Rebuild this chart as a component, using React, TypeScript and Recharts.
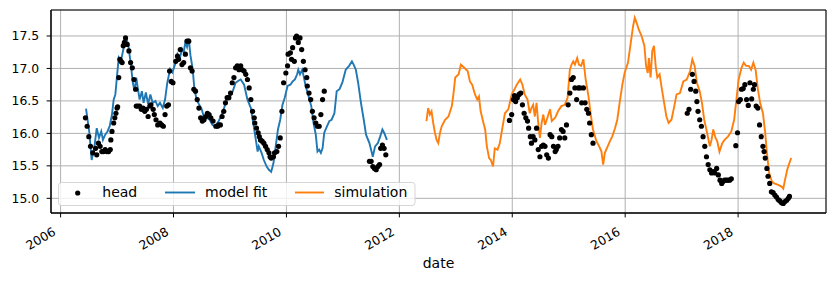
import React from 'react';
import {
  ComposedChart, Line, Scatter, XAxis, YAxis, CartesianGrid, Legend, ReferenceArea,
} from 'recharts';

// decimal year, head (m)
const headEarly: [number, number][] = [
  [2006.44, 16.24], [2006.47, 16.11], [2006.5, 15.95], [2006.53, 15.8], [2006.57, 15.7],
  [2006.62, 15.77], [2006.64, 15.67], [2006.67, 15.85], [2006.7, 15.8], [2006.73, 15.72],
  [2006.76, 15.72], [2006.79, 15.75], [2006.82, 15.72], [2006.85, 15.72], [2006.88, 15.75],
  [2006.89, 15.9], [2006.91, 16.03], [2006.94, 16.16], [2006.96, 16.24], [2006.98, 16.31],
  [2007.0, 16.39], [2007.01, 16.41], [2007.03, 16.86], [2007.05, 17.14], [2007.07, 17.11],
  [2007.09, 17.09], [2007.11, 17.35], [2007.13, 17.4], [2007.15, 17.47], [2007.18, 17.37],
  [2007.21, 17.27], [2007.24, 17.09], [2007.27, 17.01], [2007.3, 16.83], [2007.33, 16.68],
  [2007.34, 16.42], [2007.37, 16.42], [2007.4, 16.42], [2007.43, 16.37], [2007.46, 16.39],
  [2007.49, 16.34], [2007.52, 16.37], [2007.55, 16.26], [2007.58, 16.42], [2007.6, 16.44],
  [2007.64, 16.37], [2007.66, 16.29], [2007.69, 16.21], [2007.72, 16.13], [2007.76, 16.16],
  [2007.79, 16.13], [2007.82, 16.11], [2007.85, 16.29], [2007.88, 16.42], [2007.91, 16.44],
  [2007.93, 16.96], [2007.96, 16.8], [2007.99, 16.78],
  [2008.04, 17.11], [2008.07, 17.19], [2008.09, 17.14], [2008.12, 17.29], [2008.15, 17.06],
  [2008.18, 17.09], [2008.21, 17.22], [2008.24, 17.42], [2008.27, 17.42], [2008.3, 17.01],
  [2008.33, 16.96], [2008.36, 16.68], [2008.39, 16.65], [2008.42, 16.52], [2008.45, 16.39],
  [2008.48, 16.24], [2008.51, 16.19], [2008.54, 16.21], [2008.57, 16.26], [2008.6, 16.31],
  [2008.63, 16.29], [2008.66, 16.24], [2008.7, 16.19], [2008.75, 16.11], [2008.78, 16.11],
  [2008.8, 16.13], [2008.83, 16.13], [2008.86, 16.26], [2008.89, 16.34], [2008.92, 16.47],
  [2008.95, 16.55], [2008.98, 16.55], [2009.01, 16.62], [2009.04, 16.78], [2009.07, 16.86],
  [2009.1, 17.01], [2009.13, 17.04], [2009.16, 16.98], [2009.19, 17.04], [2009.22, 16.98],
  [2009.25, 16.96], [2009.28, 16.91], [2009.31, 16.83], [2009.34, 16.7], [2009.37, 16.52],
  [2009.4, 16.34], [2009.43, 16.24], [2009.44, 16.16], [2009.47, 16.08], [2009.5, 16.01],
  [2009.52, 15.95], [2009.54, 15.9], [2009.57, 15.88], [2009.6, 15.85], [2009.63, 15.8],
  [2009.66, 15.75], [2009.69, 15.7], [2009.71, 15.64], [2009.73, 15.62], [2009.77, 15.64],
  [2009.79, 15.7], [2009.83, 15.72], [2009.86, 15.8], [2009.89, 15.93], [2009.92, 16.34],
  [2009.95, 16.78], [2009.99, 16.93], [2010.02, 17.04], [2010.03, 17.22], [2010.07, 17.24],
  [2010.09, 17.14], [2010.11, 17.32], [2010.14, 17.11], [2010.16, 17.47], [2010.18, 17.5],
  [2010.21, 17.4], [2010.24, 17.47], [2010.27, 17.29], [2010.3, 17.11], [2010.33, 16.98],
  [2010.36, 16.86], [2010.37, 16.73], [2010.4, 16.62], [2010.43, 16.52], [2010.46, 16.34],
  [2010.49, 16.24], [2010.52, 16.16], [2010.55, 16.11], [2010.58, 16.11], [2010.61, 16.29],
  [2010.64, 16.52], [2010.67, 16.65],
  [2011.47, 15.57], [2011.5, 15.57], [2011.53, 15.49], [2011.56, 15.46], [2011.59, 15.44],
  [2011.62, 15.49], [2011.65, 15.52], [2011.67, 15.77], [2011.7, 15.82], [2011.73, 15.77],
  [2011.76, 15.67],
];

const headLate: [number, number][] = [
  [2013.95, 16.2], [2013.99, 16.29], [2014.02, 16.52], [2014.04, 16.58], [2014.06, 16.49],
  [2014.09, 16.55], [2014.12, 16.6], [2014.15, 16.62], [2014.18, 16.44], [2014.21, 16.31],
  [2014.24, 16.24], [2014.27, 16.19], [2014.29, 16.08], [2014.32, 15.95], [2014.34, 15.85],
  [2014.37, 15.95], [2014.4, 15.9], [2014.43, 16.08], [2014.46, 15.75], [2014.49, 15.64],
  [2014.52, 15.8], [2014.55, 15.82], [2014.58, 15.8], [2014.61, 15.67], [2014.64, 15.62],
  [2014.67, 15.98], [2014.7, 15.95], [2014.73, 15.8], [2014.76, 15.72], [2014.78, 15.75],
  [2014.81, 15.8], [2014.84, 15.93], [2014.87, 16.06], [2014.9, 16.03], [2014.93, 15.93],
  [2014.96, 16.13], [2014.99, 16.44], [2015.02, 16.62], [2015.05, 16.83], [2015.08, 16.86],
  [2015.11, 16.7], [2015.14, 16.52], [2015.17, 16.7], [2015.2, 16.7], [2015.23, 16.47],
  [2015.26, 16.7], [2015.29, 16.47], [2015.32, 16.37], [2015.35, 16.31], [2015.37, 16.16],
  [2015.4, 15.98], [2015.43, 15.85],
  [2017.1, 16.31], [2017.13, 16.37], [2017.16, 16.68], [2017.19, 16.91], [2017.22, 16.8],
  [2017.25, 16.65], [2017.27, 16.49], [2017.29, 16.34], [2017.32, 16.21], [2017.35, 16.11],
  [2017.38, 15.95], [2017.41, 15.8], [2017.44, 15.64], [2017.47, 15.52], [2017.5, 15.44],
  [2017.53, 15.39], [2017.56, 15.41], [2017.59, 15.39], [2017.62, 15.46], [2017.65, 15.36],
  [2017.68, 15.28], [2017.71, 15.23], [2017.73, 15.26], [2017.76, 15.28], [2017.79, 15.28],
  [2017.82, 15.28], [2017.85, 15.28], [2017.88, 15.3],
  [2017.96, 15.81], [2017.99, 16.01], [2018.01, 16.49], [2018.04, 16.52], [2018.06, 16.68],
  [2018.09, 16.69], [2018.12, 16.75], [2018.15, 16.52], [2018.18, 16.43], [2018.21, 16.78],
  [2018.24, 16.53], [2018.27, 16.68], [2018.29, 16.75], [2018.32, 16.42], [2018.35, 16.39],
  [2018.38, 16.13], [2018.41, 15.95], [2018.44, 15.8], [2018.46, 15.72], [2018.48, 15.62],
  [2018.51, 15.46], [2018.53, 15.34], [2018.56, 15.23], [2018.59, 15.1], [2018.62, 15.09],
  [2018.65, 15.05], [2018.68, 15.02], [2018.71, 14.98], [2018.74, 14.96], [2018.77, 14.93],
  [2018.8, 14.92], [2018.83, 14.95], [2018.86, 14.97], [2018.89, 15.0], [2018.91, 15.03],
];

const modelFit: [number, number][] = [
  [2006.45, 16.38], [2006.51, 16.01], [2006.55, 15.59], [2006.6, 15.8], [2006.64, 16.08],
  [2006.68, 15.93], [2006.72, 16.03], [2006.75, 15.9], [2006.79, 15.98], [2006.83, 16.03],
  [2006.87, 16.11], [2006.91, 16.29], [2006.94, 16.52], [2006.97, 16.6], [2007.0, 16.89],
  [2007.03, 17.17], [2007.07, 17.12], [2007.12, 17.33], [2007.16, 17.48], [2007.2, 17.35],
  [2007.24, 17.09], [2007.28, 16.78], [2007.31, 16.65], [2007.34, 16.86], [2007.37, 16.68],
  [2007.4, 16.52], [2007.44, 16.65], [2007.47, 16.47], [2007.51, 16.63], [2007.55, 16.45],
  [2007.59, 16.6], [2007.63, 16.47], [2007.68, 16.5], [2007.72, 16.42], [2007.76, 16.47],
  [2007.81, 16.39], [2007.85, 16.52], [2007.89, 16.78], [2007.94, 16.99], [2007.98, 16.94],
  [2008.03, 17.07], [2008.07, 17.22], [2008.11, 17.15], [2008.15, 17.3], [2008.18, 17.25],
  [2008.21, 17.4], [2008.24, 17.33], [2008.27, 17.46], [2008.3, 17.2], [2008.34, 16.99],
  [2008.37, 16.68], [2008.41, 16.52], [2008.45, 16.45], [2008.5, 16.37], [2008.55, 16.21],
  [2008.59, 16.24], [2008.64, 16.21], [2008.69, 16.13], [2008.74, 16.11], [2008.8, 16.19],
  [2008.84, 16.26], [2008.89, 16.37], [2008.93, 16.5], [2008.99, 16.55], [2009.05, 16.65],
  [2009.1, 16.78], [2009.15, 16.81], [2009.19, 16.83], [2009.25, 16.75], [2009.31, 16.52],
  [2009.37, 16.39], [2009.43, 16.06], [2009.49, 15.72], [2009.51, 15.8], [2009.56, 15.7],
  [2009.6, 15.59], [2009.65, 15.49], [2009.69, 15.44], [2009.73, 15.41], [2009.77, 15.54],
  [2009.81, 15.8], [2009.85, 16.06], [2009.89, 16.21], [2009.93, 16.44], [2009.97, 16.55],
  [2010.02, 16.73], [2010.07, 16.75], [2010.11, 16.8], [2010.15, 16.83], [2010.19, 16.91],
  [2010.21, 16.98], [2010.24, 16.91], [2010.28, 16.98], [2010.31, 16.86], [2010.34, 16.73],
  [2010.4, 16.55], [2010.44, 16.42], [2010.48, 16.16], [2010.52, 15.98], [2010.55, 15.72],
  [2010.58, 15.75], [2010.61, 15.7], [2010.64, 15.77], [2010.67, 16.01], [2010.72, 16.11],
  [2010.76, 16.19], [2010.8, 16.21], [2010.85, 16.31], [2010.89, 16.65], [2010.94, 16.68],
  [2010.99, 16.78], [2011.05, 16.98], [2011.11, 17.04], [2011.16, 17.11], [2011.19, 17.06],
  [2011.23, 16.98], [2011.27, 16.78], [2011.32, 16.47], [2011.37, 16.21], [2011.41, 15.98],
  [2011.47, 15.85], [2011.53, 15.64], [2011.57, 15.8], [2011.62, 15.85], [2011.66, 15.95],
  [2011.7, 16.06], [2011.73, 16.01], [2011.78, 15.9],
];

const simulation: [number, number][] = [
  [2012.48, 16.19], [2012.51, 16.39], [2012.54, 16.29], [2012.57, 16.34], [2012.6, 16.16],
  [2012.63, 16.01], [2012.66, 15.9], [2012.69, 15.85], [2012.72, 16.01], [2012.75, 16.11],
  [2012.78, 16.16], [2012.81, 16.21], [2012.87, 16.26], [2012.93, 16.42], [2012.96, 16.62],
  [2012.99, 16.86], [2013.05, 16.91], [2013.09, 17.06], [2013.15, 17.01], [2013.21, 16.96],
  [2013.25, 16.8], [2013.29, 16.75], [2013.34, 16.6], [2013.38, 16.52], [2013.41, 16.57],
  [2013.44, 16.34], [2013.49, 16.16], [2013.52, 16.06], [2013.55, 15.8], [2013.59, 15.62],
  [2013.62, 15.59], [2013.66, 15.49], [2013.69, 15.77], [2013.74, 15.75], [2013.78, 15.85],
  [2013.82, 16.06], [2013.87, 16.31], [2013.93, 16.37], [2013.99, 16.6], [2014.04, 16.68],
  [2014.08, 16.75], [2014.14, 16.83], [2014.18, 16.75], [2014.22, 16.6], [2014.27, 16.52],
  [2014.31, 16.31], [2014.34, 16.39], [2014.37, 16.44], [2014.4, 16.26], [2014.43, 16.47],
  [2014.46, 16.16], [2014.49, 15.93], [2014.52, 16.16], [2014.55, 16.29], [2014.58, 16.13],
  [2014.61, 16.21], [2014.64, 16.29], [2014.67, 16.37], [2014.7, 16.19], [2014.76, 16.24],
  [2014.81, 16.34], [2014.87, 16.42], [2014.93, 16.44], [2014.98, 16.55], [2015.02, 16.98],
  [2015.05, 17.06], [2015.08, 17.11], [2015.11, 17.06], [2015.15, 17.16], [2015.18, 17.06],
  [2015.22, 17.04], [2015.26, 17.14], [2015.3, 16.83], [2015.35, 16.57], [2015.39, 16.29],
  [2015.43, 16.06], [2015.49, 15.88], [2015.54, 15.8], [2015.58, 15.72], [2015.61, 15.52],
  [2015.64, 15.7], [2015.69, 15.8], [2015.73, 15.88], [2015.77, 15.95], [2015.82, 16.08],
  [2015.86, 16.21], [2015.91, 16.52], [2015.95, 16.75], [2015.99, 16.93], [2016.05, 17.09],
  [2016.1, 17.4], [2016.14, 17.65], [2016.17, 17.78], [2016.2, 17.71], [2016.24, 17.6],
  [2016.29, 17.5], [2016.34, 17.35], [2016.37, 17.04], [2016.4, 16.93], [2016.42, 17.16],
  [2016.45, 16.86], [2016.48, 17.27], [2016.51, 17.35], [2016.54, 17.04], [2016.57, 16.86],
  [2016.61, 16.91], [2016.65, 16.68], [2016.69, 16.47], [2016.73, 16.26], [2016.77, 16.16],
  [2016.82, 16.21], [2016.87, 16.42], [2016.91, 16.6], [2016.97, 16.62], [2017.03, 16.8],
  [2017.09, 16.83], [2017.15, 16.96], [2017.19, 17.14], [2017.23, 17.04], [2017.27, 16.78],
  [2017.32, 16.65], [2017.36, 16.47], [2017.4, 16.21], [2017.45, 16.01], [2017.5, 15.8],
  [2017.53, 15.9], [2017.56, 16.06], [2017.6, 15.93], [2017.63, 15.88], [2017.67, 15.72],
  [2017.72, 15.85], [2017.76, 15.9], [2017.82, 15.95], [2017.88, 16.03], [2017.93, 16.21],
  [2017.97, 16.52], [2018.01, 16.83], [2018.06, 17.01], [2018.1, 17.09], [2018.14, 17.04],
  [2018.19, 17.04], [2018.23, 16.98], [2018.27, 17.09], [2018.31, 16.98], [2018.35, 16.68],
  [2018.39, 16.47], [2018.44, 16.31], [2018.48, 16.01], [2018.51, 15.7], [2018.55, 15.39],
  [2018.6, 15.26], [2018.64, 15.23], [2018.7, 15.21], [2018.77, 15.18], [2018.8, 15.15],
  [2018.83, 15.28], [2018.87, 15.44], [2018.9, 15.52], [2018.94, 15.62],
];

const yearTicks = [2006, 2008, 2010, 2012, 2014, 2016, 2018];
const headTicks = [15.0, 15.5, 16.0, 16.5, 17.0, 17.5];

const toRows = (pairs: [number, number][]) => pairs.map(([t, v]) => ({ t, v }));

const FONT = '"DejaVu Sans", sans-serif';
const BLUE = '#1f77b4';
const ORANGE = '#ff7f0e';

const YearTick = (props: any) => {
  const { x, y, payload } = props;
  const tx = x - 4;
  const ty = y + 17;
  return (
    <text x={tx} y={ty} textAnchor="end" fontSize={12.4} fill="#000"
      transform={`rotate(-30, ${tx}, ${ty})`}>
      {payload.value}
    </text>
  );
};

const Dot = (props: any) => <circle cx={props.cx} cy={props.cy} r={2.6} fill="#000" />;

const renderLegend = () => (
  <svg width={358} height={25} style={{ display: 'block', fontFamily: FONT }}>
    <rect x={0.5} y={0.5} width={356.5} height={23} rx={3} fill="#fff" fillOpacity={0.8}
      stroke="#cccccc" strokeOpacity={0.8} />
    <circle cx={19.7} cy={11} r={2.6} fill="#000" />
    <text x={44.3} y={15.3} fontSize={14} fill="#000">head</text>
    <line x1={107} x2={137} y1={10.5} y2={10.5} stroke={BLUE} strokeWidth={1.9} />
    <text x={147} y={15.3} fontSize={14} fill="#000">model fit</text>
    <line x1={237} x2={266} y1={10.5} y2={10.5} stroke={ORANGE} strokeWidth={1.9} />
    <text x={276.3} y={15.3} fontSize={14} fill="#000">simulation</text>
  </svg>
);

export default function App() {
  const xDomain: [number, number] = [2005.83, 2019.557];
  const yDomain: [number, number] = [14.774, 17.9];

  return (
    <div style={{ position: 'absolute', left: 0, top: 0, fontFamily: FONT }}>
      <ComposedChart width={835} height={283} margin={{ top: 10, right: 9, bottom: 0, left: 0 }}>
        <CartesianGrid stroke="#b0b0b0" strokeWidth={1} />
        <XAxis
          type="number"
          dataKey="t"
          domain={xDomain}
          allowDataOverflow
          ticks={yearTicks}
          interval={0}
          height={70}
          tickSize={4.4}
          tickMargin={0}
          tick={<YearTick />}
          stroke="#000"
          tickLine={{ stroke: '#000' }}
          label={{ value: 'date', position: 'insideBottom', offset: 15, fill: '#000', fontSize: 14 }}
        />
        <YAxis
          type="number"
          dataKey="v"
          domain={yDomain}
          allowDataOverflow
          ticks={headTicks}
          interval={0}
          width={51}
          tickSize={4.4}
          tickMargin={7.5}
          tickFormatter={(v: number) => v.toFixed(1)}
          tick={{ fill: '#000', fontSize: 12.4 }}
          stroke="#000"
          tickLine={{ stroke: '#000' }}
        />
        <Scatter data={toRows(headEarly)} dataKey="v" fill="#000" shape={<Dot />}
          isAnimationActive={false} name="head" />
        <Scatter data={toRows(headLate)} dataKey="v" fill="#000" shape={<Dot />}
          isAnimationActive={false} name="head" />
        <Line data={toRows(modelFit)} dataKey="v" type="linear" stroke={BLUE} strokeWidth={1.9}
          dot={false} activeDot={false} isAnimationActive={false} name="model fit" />
        <Line data={toRows(simulation)} dataKey="v" type="linear" stroke={ORANGE} strokeWidth={1.9}
          dot={false} activeDot={false} isAnimationActive={false} name="simulation" />
        <ReferenceArea x1={xDomain[0]} x2={xDomain[1]} y1={yDomain[0]} y2={yDomain[1]}
          fill="none" stroke="#000" strokeWidth={1} ifOverflow="visible" />
        <Legend
          layout="horizontal"
          align="center"
          verticalAlign="middle"
          content={renderLegend}
          wrapperStyle={{ position: 'absolute', left: 58, top: 182, width: 358, height: 25 }}
        />
      </ComposedChart>
    </div>
  );
}
